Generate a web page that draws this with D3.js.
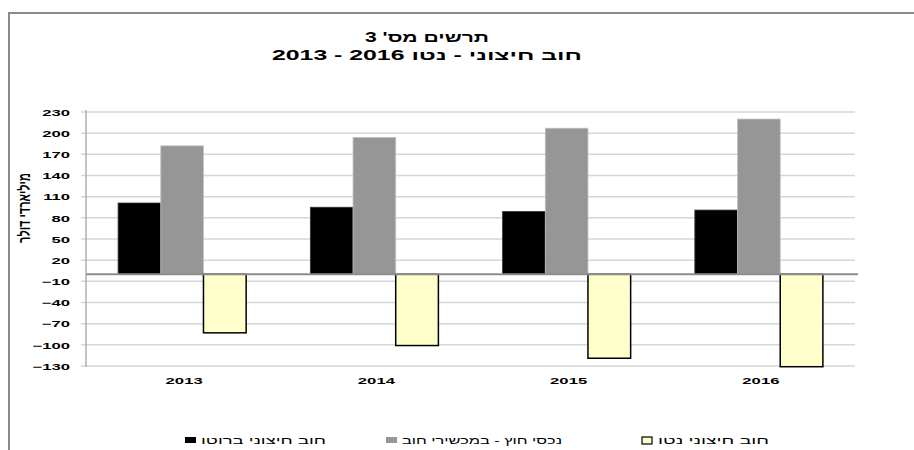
<!DOCTYPE html>
<html>
<head>
<meta charset="utf-8">
<script src="https://cdn.jsdelivr.net/npm/d3@7"></script>
<style>
  body { margin: 0; background: #fff; }
  text { font-family: "Liberation Sans", Arial, sans-serif; }
</style>
</head>
<body>
<div id="chart"></div>
<script>
const years = ["2013", "2014", "2015", "2016"];
const grossDebt = [101, 95, 89, 91];
const debtAssets = [182, 194, 207, 220];
const netDebt = [-83, -101, -119, -131];
const yTicks = [230, 200, 170, 140, 110, 80, 50, 20, -10, -40, -70, -100, -130];
const seriesNames = ["חוב חיצוני ברוטו", "נכסי חוץ - במכשירי חוב", "חוב חיצוני נטו"];

const W = 914, H = 450;
const box = { left: 86, right: 855, top: 112, bottom: 366 };

const svg = d3.select("#chart").append("svg")
  .attr("width", W).attr("height", H);

// outer frame
svg.append("path")
  .attr("d", "M9,460 L9,13 L920,13")
  .attr("fill", "none")
  .attr("stroke", "#8a8a8a")
  .attr("stroke-width", 2);

// title (the original is stretched wide, so fit each line to its width)
svg.append("text")
  .attr("x", 365).attr("y", 42)
  .attr("textLength", 124).attr("lengthAdjust", "spacingAndGlyphs")
  .style("font-size", "14px").style("font-weight", "bold")
  .text("תרשים מס' 3");
svg.append("text")
  .attr("x", 272).attr("y", 60)
  .attr("textLength", 310).attr("lengthAdjust", "spacingAndGlyphs")
  .style("font-size", "14px").style("font-weight", "bold")
  .text("חוב חיצוני - נטו 2016 - 2013");

const y = d3.scaleLinear().domain([-130, 230]).range([box.bottom, box.top]);
const x = d3.scaleBand().domain(years).range([box.left, box.right])
  .paddingInner(0.334).paddingOuter(0.167);
const xs = d3.scaleBand().domain([0, 1, 2]).range([0, x.bandwidth()]);

// gridlines
svg.append("g").selectAll("line")
  .data(yTicks)
  .join("line")
  .attr("x1", box.left - 5).attr("x2", box.right)
  .attr("y1", d => y(d)).attr("y2", d => y(d))
  .attr("stroke", "#d6d6d6").attr("stroke-width", 1.5);

// y axis
const yAxis = svg.append("g")
  .attr("transform", "translate(" + box.left + ",0)")
  .call(d3.axisLeft(y).tickValues(yTicks).tickSize(0).tickPadding(8.6));
yAxis.select(".domain").remove();
yAxis.selectAll("text")
  .attr("transform", "scale(1.85,1)")
  .attr("dy", "0.36em")
  .style("font-size", "9px").style("font-weight", "bold")
  .style("font-family", "'Liberation Sans', Arial, sans-serif")
  .attr("fill", "#000");
svg.append("line")
  .attr("x1", box.left).attr("x2", box.left)
  .attr("y1", box.top - 2).attr("y2", box.bottom + 1)
  .attr("stroke", "#b0b0b0").attr("stroke-width", 1.5);

svg.append("text")
  .attr("transform", "translate(24,208) scale(1.45,1) rotate(-90)")
  .attr("text-anchor", "middle")
  .attr("dy", "0.35em")
  .attr("direction", "rtl")
  .style("font-size", "11px").style("font-weight", "bold")
  .text("מיליארדי דולר");

// bars
const rows = years.map((yr, i) => ({ year: yr, vals: [grossDebt[i], debtAssets[i], netDebt[i]] }));
const fills = ["#000000", "#969696", "#ffffcc"];
const strokes = ["#333333", "#c0c0c0", "#000000"];

const groups = svg.append("g").selectAll("g")
  .data(rows).join("g")
  .attr("transform", d => "translate(" + x(d.year) + ",0)");
groups.selectAll("rect")
  .data(d => d.vals.map((v, k) => ({ v, k })))
  .join("rect")
  .attr("x", d => xs(d.k))
  .attr("width", xs.bandwidth())
  .attr("y", d => y(Math.max(0, d.v)))
  .attr("height", d => Math.abs(y(d.v) - y(0)))
  .attr("fill", d => fills[d.k])
  .attr("stroke", d => strokes[d.k])
  .attr("stroke-width", d => d.k === 2 ? 1.5 : 0.8);

// zero line
svg.append("line")
  .attr("x1", box.left).attr("x2", box.right + 3)
  .attr("y1", y(0)).attr("y2", y(0))
  .attr("stroke", "#8c8c8c").attr("stroke-width", 2);

// x labels
svg.append("g").selectAll("text")
  .data(years).join("text")
  .attr("transform", d => "translate(" + (x(d) + x.bandwidth() / 2 + 2) + ",384) scale(1.85,1)")
  .attr("text-anchor", "middle")
  .style("font-size", "9px").style("font-weight", "bold")
  .text(d => d);

// legend
const legendX = [185, 386, 642];
const legendW = [125, 160, 111];
const lg = svg.append("g").selectAll("g")
  .data(seriesNames).join("g")
  .attr("transform", (d, i) => "translate(" + legendX[i] + ",437)");
lg.append("rect")
  .attr("x", 0).attr("y", 0)
  .attr("width", (d, i) => i === 2 ? 10 : 11)
  .attr("height", (d, i) => i === 2 ? 7 : 6)
  .attr("fill", (d, i) => fills[i])
  .attr("stroke", (d, i) => i === 2 ? "#000" : "none")
  .attr("stroke-width", 1.2);
lg.append("text")
  .attr("x", 16).attr("y", 7)
  .attr("textLength", (d, i) => legendW[i])
  .attr("lengthAdjust", "spacingAndGlyphs")
  .style("font-size", "10.5px")
  .text(d => d);
</script>
</body>
</html>
